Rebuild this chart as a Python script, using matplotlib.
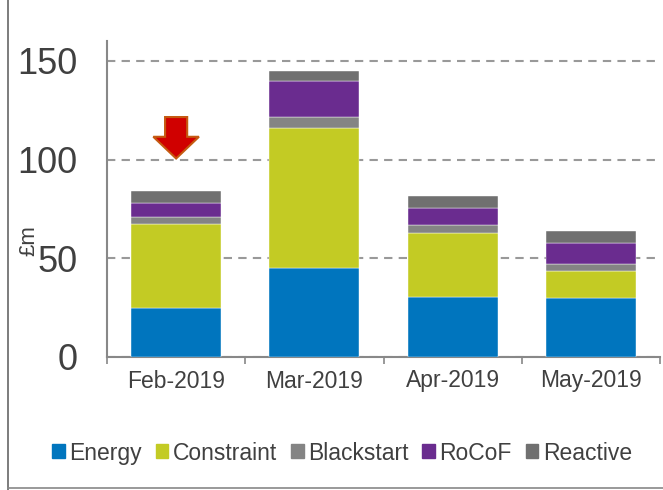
import matplotlib.pyplot as plt
from matplotlib.lines import Line2D

months = ["Feb-2019", "Mar-2019", "Apr-2019", "May-2019"]
energy = [25, 45, 30.5, 30]
constraint = [42.5, 71, 32.5, 13.5]
blackstart = [3.5, 5.5, 4, 3.5]
rocof = [7, 18, 8.5, 10.5]
reactive = [6, 5.5, 6, 6.5]

series = [
    ("Energy", energy, "#0075BE"),
    ("Constraint", constraint, "#C3CB24"),
    ("Blackstart", blackstart, "#848484"),
    ("RoCoF", rocof, "#6A2C8F"),
    ("Reactive", reactive, "#707070"),
]

plt.rcParams['font.family'] = ['Liberation Sans', 'DejaVu Sans']

fig = plt.figure(figsize=(6.63, 4.90), dpi=100)
ax = fig.add_axes([107 / 663, 1 - 357 / 490, 553 / 663, 316 / 490])

x = list(range(len(months)))
bottom = [0] * len(months)
for name, vals, col in series:
    ax.bar(x, vals, width=0.65, bottom=bottom, color=col, label=name,
           edgecolor="white", linewidth=0.3, zorder=3)
    bottom = [b + v for b, v in zip(bottom, vals)]

ax.set_xlim(-0.5, 3.5)
ax.set_ylim(0, 160)
ax.set_yticks([0, 50, 100, 150])
ax.set_xticks(x)
ax.set_xticklabels(months, fontsize=16.5, color="#404040")
ax.set_xticks([-0.5, 0.5, 1.5, 2.5, 3.5], minor=True)
ax.tick_params(axis="x", which="major", length=0, pad=9)
ax.tick_params(axis="x", which="minor", length=5, color="#888888", width=1.2)
ax.tick_params(axis="y", length=0, labelsize=26, labelcolor="#404040", pad=21)

for s in ["top", "right"]:
    ax.spines[s].set_visible(False)
for s in ["left", "bottom"]:
    ax.spines[s].set_color("#888888")
    ax.spines[s].set_linewidth(1.5)

ax.yaxis.grid(True, linestyle=(0, (4, 3)), color="#999999", linewidth=1.5, zorder=0)
fig.text(29 / 663, 1 - 241 / 490, "£m", rotation=90, fontsize=16, color="#404040",
         ha="center", va="center")

# red arrow over Feb
ax.arrow(0, 121.5, 0, -10, width=0.16, head_width=0.33, head_length=11,
         length_includes_head=False, facecolor="#D00000", edgecolor="#C55A11",
         linewidth=1.5, zorder=5)

handles = [plt.Rectangle((0, 0), 1, 1, color=c) for _, _, c in series]
fig.legend(handles, [n for n, _, _ in series], loc="center", bbox_to_anchor=(0.516, 1 - 453 / 490),
           ncol=5, frameon=False, fontsize=16.5, handlelength=0.55, handleheight=0.55,
           handletextpad=0.2, columnspacing=0.6, labelcolor="#404040")

# frame lines on figure edge
fig.add_artist(Line2D([8 / 663, 8 / 663], [0, 1], color="#666666", linewidth=1.2))
fig.add_artist(Line2D([8 / 663, 1], [2 / 490, 2 / 490], color="#888888", linewidth=1.2))

fig.savefig("out.png", dpi=100)
